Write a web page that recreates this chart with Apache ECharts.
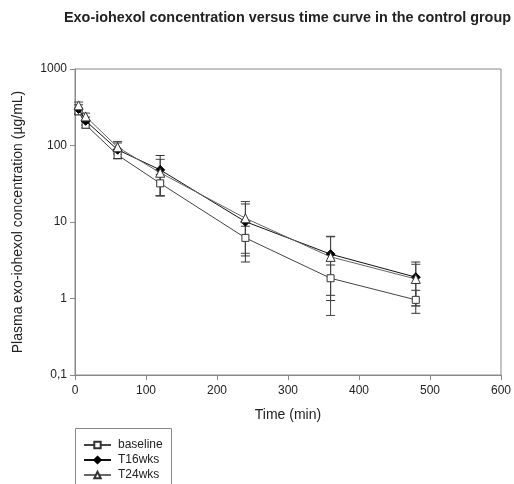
<!DOCTYPE html>
<html>
<head>
<meta charset="utf-8">
<script src="https://cdn.jsdelivr.net/npm/echarts@6/dist/echarts.min.js"></script>
<style>
html,body{margin:0;padding:0;background:#fff;}
#c{width:514px;height:484px;}
</style>
</head>
<body>
<div id="c"></div>
<script>
var times = [5, 15, 60, 120, 240, 360, 480];
var baseline = [280, 187, 75, 32, 6.2, 1.84, 0.96];
var baselineSD = [28, 18, 8, 10, 2.6, 0.9, 0.32];
var t16 = [300, 210, 88, 48, 10.1, 3.8, 1.9];
var t16SD = [40, 25, 20, 26, 7.1, 2.7, 1.1];
var t24 = [335, 240, 95, 44, 11.2, 3.5, 1.8];
var t24SD = [35, 25, 18, 22, 7.3, 2.9, 1.0];
var seriesNames = ['baseline', 'T16wks', 'T24wks'];
var xTicks = [0, 100, 200, 300, 400, 500, 600];
var yTicks = [0.1, 1, 10, 100, 1000];

var FONT = '"Liberation Sans", Arial, sans-serif';

function pts(vals) { return times.map(function (t, i) { return [t, vals[i]]; }); }
function errs(vals, sd) { return times.map(function (t, i) { return [t, vals[i] - sd[i], vals[i] + sd[i]]; }); }

function errSeries(name, vals, sd, color) {
  return {
    name: name,
    type: 'custom',
    data: errs(vals, sd),
    encode: { x: 0, y: [1, 2] },
    z: 1,
    silent: true,
    renderItem: function (params, api) {
      var x = api.value(0);
      var lo = api.coord([x, api.value(1)]);
      var hi = api.coord([x, api.value(2)]);
      var hw = 4.5;
      var st = { stroke: color, lineWidth: 1 };
      return {
        type: 'group',
        children: [
          { type: 'line', shape: { x1: lo[0], y1: lo[1], x2: hi[0], y2: hi[1] }, style: st },
          { type: 'line', shape: { x1: lo[0] - hw, y1: lo[1], x2: lo[0] + hw, y2: lo[1] }, style: st },
          { type: 'line', shape: { x1: hi[0] - hw, y1: hi[1], x2: hi[0] + hw, y2: hi[1] }, style: st }
        ]
      };
    }
  };
}

function legendFor(i) {
  return {
    data: [seriesNames[i]],
    left: 83, top: 439 + i * 15,
    padding: 0,
    itemWidth: 27, itemHeight: 8,
    selectedMode: false,
    textStyle: { fontFamily: FONT, fontSize: 12, color: '#222', padding: [0, 0, 0, 2] }
  };
}

var chart = echarts.init(document.getElementById('c'), null, { renderer: 'canvas' });
chart.setOption({
  animation: false,
  backgroundColor: '#fff',
  title: {
    text: 'Exo-iohexol concentration versus time curve in the control group',
    left: 64, top: 11, padding: 0,
    textStyle: { fontFamily: FONT, fontSize: 14.4, fontWeight: 'bold', color: '#222' }
  },
  graphic: [{
    type: 'rect', left: 75, top: 428, silent: true,
    shape: { width: 96, height: 70 },
    style: { fill: 'transparent', stroke: '#888', lineWidth: 1 }
  }],
  grid: { left: 75, right: 13, top: 69, bottom: 109, show: true, borderColor: '#888', borderWidth: 1, backgroundColor: 'transparent' },
  legend: [legendFor(0), legendFor(1), legendFor(2)],
  xAxis: {
    type: 'value', min: 0, max: 600, interval: 100,
    name: 'Time (min)', nameLocation: 'middle', nameGap: 33,
    nameTextStyle: { fontFamily: FONT, fontSize: 14, color: '#222' },
    axisLine: { show: true, lineStyle: { color: '#888' } },
    axisTick: { show: true, length: 5, lineStyle: { color: '#888' } },
    axisLabel: { fontFamily: FONT, fontSize: 12, color: '#222', margin: 10,
      formatter: function (v) { return xTicks.indexOf(v) >= 0 ? String(v) : ''; } },
    splitLine: { show: false }
  },
  yAxis: {
    type: 'log', logBase: 10, min: 0.1, max: 1000,
    name: 'Plasma exo-iohexol concentration (\u00b5g/mL)', nameLocation: 'middle', nameGap: 50,
    nameTextStyle: { fontFamily: FONT, fontSize: 14, color: '#222' },
    axisLine: { show: true, lineStyle: { color: '#888' } },
    axisTick: { show: true, length: 5, lineStyle: { color: '#888' } },
    axisLabel: { fontFamily: FONT, fontSize: 12, color: '#222', margin: 8,
      formatter: function (v) {
        var n = Number(Number(v).toPrecision(6));
        return String(n).replace('.', ',');
      } },
    splitLine: { show: false },
    minorTick: { show: false }
  },
  series: [
    errSeries('baseline-err', baseline, baselineSD, '#333'),
    errSeries('T16wks-err', t16, t16SD, '#333'),
    errSeries('T24wks-err', t24, t24SD, '#444'),
    {
      name: seriesNames[0], type: 'line', data: pts(baseline), z: 3,
      symbol: 'rect', symbolSize: 7,
      lineStyle: { color: '#444', width: 1 },
      itemStyle: { color: '#fff', borderColor: '#333', borderWidth: 1 }
    },
    {
      name: seriesNames[1], type: 'line', data: pts(t16), z: 4,
      symbol: 'diamond', symbolSize: 9,
      lineStyle: { color: '#111', width: 1 },
      itemStyle: { color: '#000', borderColor: '#000', borderWidth: 1 }
    },
    {
      name: seriesNames[2], type: 'line', data: pts(t24), z: 5,
      symbol: 'triangle', symbolSize: 9,
      lineStyle: { color: '#666', width: 1 },
      itemStyle: { color: '#fff', borderColor: '#333', borderWidth: 1 }
    }
  ]
});
</script>
</body>
</html>
